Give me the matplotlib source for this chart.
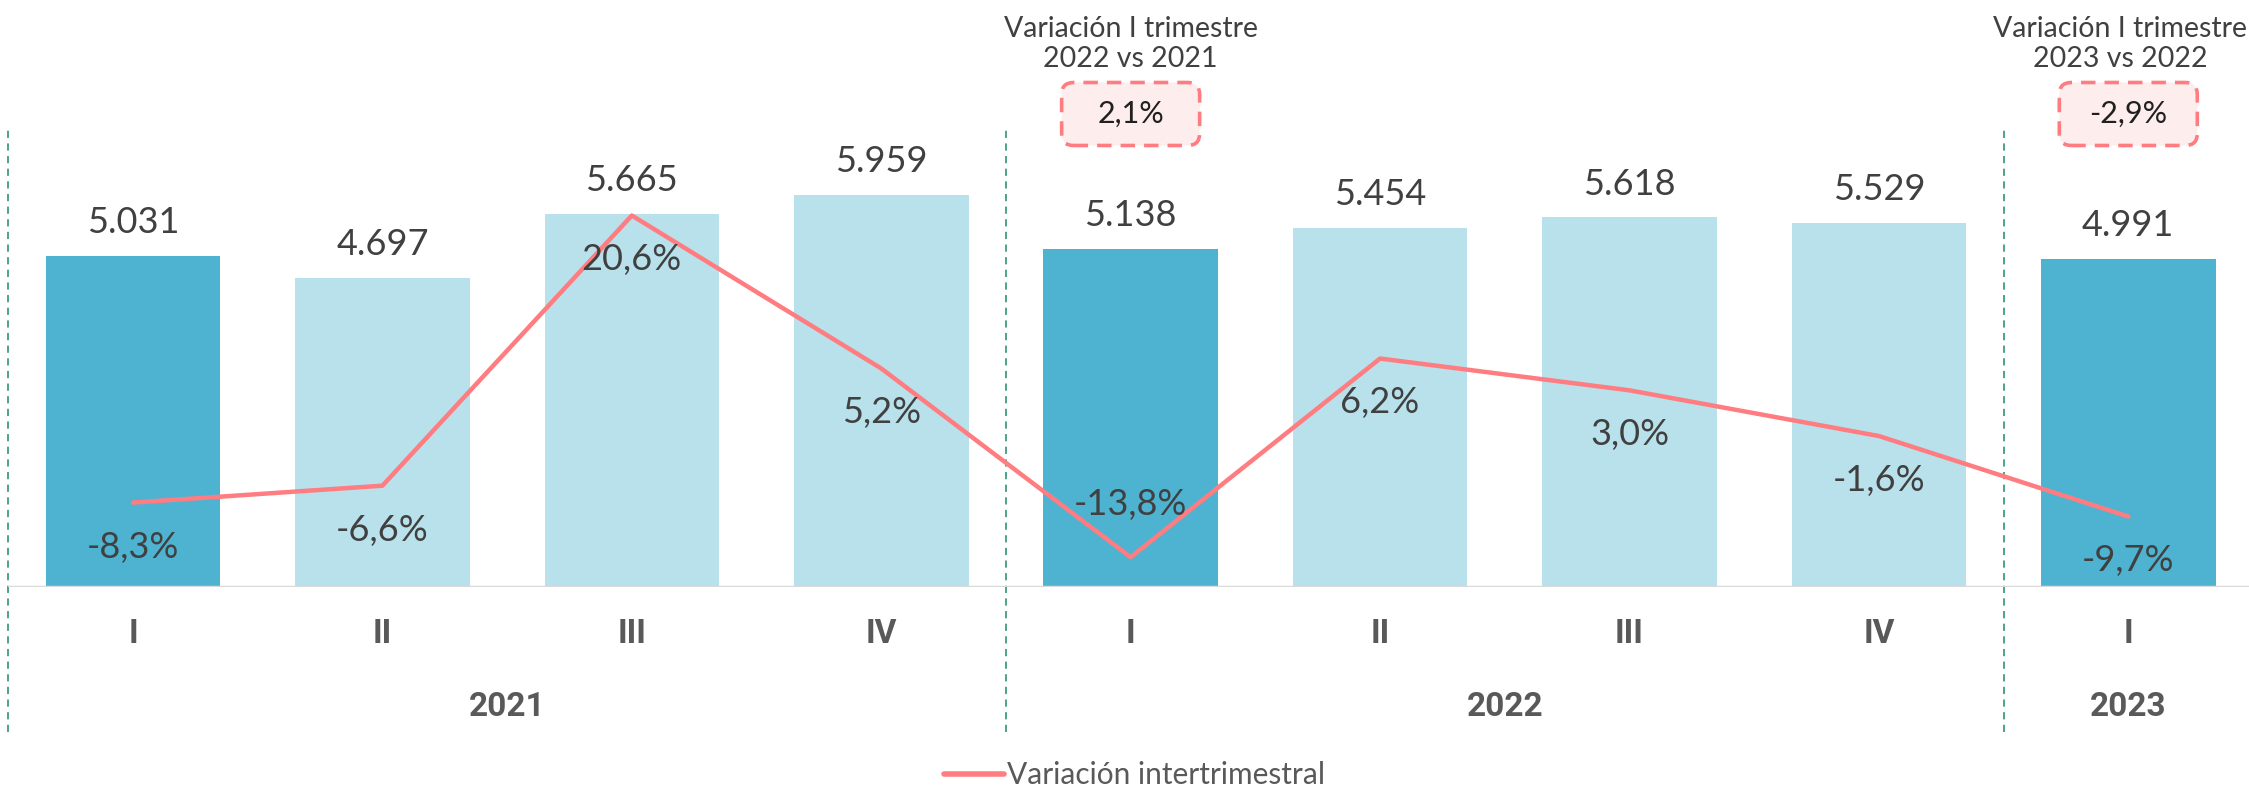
import matplotlib
matplotlib.use("Agg")
import matplotlib.pyplot as plt
from matplotlib.patches import FancyBboxPatch
from matplotlib.lines import Line2D

# ---------------- data ----------------
quarters = ["I", "II", "III", "IV", "I", "II", "III", "IV", "I"]
years = ["2021", "2022", "2023"]
year_sizes = [4, 4, 1]
values = [5031, 4697, 5665, 5959, 5138, 5454, 5618, 5529, 4991]
variation = [-8.3, -6.6, 20.6, 5.2, -13.8, 6.2, 3.0, -1.6, -9.7]
annot_titles = ["Variación I trimestre\n2022 vs 2021", "Variación I trimestre\n2023 vs 2022"]
annot_values = ["2,1%", "-2,9%"]
annot_idx = [4, 8]
legend_label = "Variación intertrimestral"

def fmt_thousands(v):
    return f"{v:,}".replace(",", ".")

def fmt_pct(v):
    return f"{v:.1f}%".replace(".", ",")

# ---------------- style ----------------
DARK = "#4EB3D1"
LIGHT = "#B8E1EB"
LINE = "#FF7C80"
TXT = "#404040"
TXT2 = "#595959"
SEP = "#3F9C80"
FONT = ["Lato", "DejaVu Sans"]
BOLDFONT = ["Liberation Sans Narrow", "Roboto", "DejaVu Sans"]
plt.rcParams["font.family"] = FONT

W, H = 2249, 788
fig = plt.figure(figsize=(W / 100, H / 100), dpi=100)

left_px, right_px = 8.3, 2253.0
bottom_px, top_px = 587.0, 126.4
ax = fig.add_axes([left_px / W, 1 - bottom_px / H,
                   (right_px - left_px) / W, (bottom_px - top_px) / H])
n = len(values)
x = list(range(n))
ax.set_xlim(-0.5, n - 0.5)
ax.set_ylim(0, 7000)
colors = [DARK if q == "I" else LIGHT for q in quarters]
bars = ax.bar(x, values, width=0.7, color=colors, zorder=2)
for xi, v in zip(x, values):
    ax.annotate(fmt_thousands(v), (xi, v), xytext=(0, 24), textcoords="offset points",
                ha="center", va="center", fontsize=26, color=TXT)

for s in ax.spines.values():
    s.set_visible(False)
ax.set_xticks([])
ax.set_yticks([])
ax.axhline(0, color="#D9D9D9", lw=2.5, zorder=3)

ax2 = ax.twinx()
ax2.set_ylim(-16.8, 29.57)
for s in ax2.spines.values():
    s.set_visible(False)
ax2.set_yticks([])
ax2.plot(x, variation, color=LINE, lw=3.2, solid_capstyle="round", zorder=4)
for xi, v in zip(x, variation):
    off = 38 if v == min(variation) else -32
    ax2.annotate(fmt_pct(v), (xi, v), xytext=(0, off), textcoords="offset points",
                 ha="center", va="center", fontsize=26, color=TXT, zorder=5)

# category labels
xt = ax.get_xaxis_transform()
for xi, q in zip(x, quarters):
    ax.text(xi, -0.102, q, transform=xt, ha="center", va="center",
            fontsize=24, fontweight="bold", color=TXT2, family=BOLDFONT)
start = -0.5
seps = [start]
for yname, sz in zip(years, year_sizes):
    mid = start + sz / 2
    ax.text(mid, -0.2605, yname, transform=xt, ha="center", va="center",
            fontsize=24, fontweight="bold", color=TXT2, family=BOLDFONT)
    start += sz
    if start < n - 0.5:
        seps.append(start)
for sx in seps:
    ax.plot([sx, sx], [-0.315, 0.9965], transform=xt, color=SEP, lw=1.3,
            ls=(0, (4, 3)), clip_on=False, zorder=1)

# annotations
fig.canvas.draw()
renderer = fig.canvas.get_renderer()
for idx, title, val in zip(annot_idx, annot_titles, annot_values):
    cx = ax.transData.transform((idx, 0))[0]
    tt = fig.text(cx / W, 1 - 44 / H, title, ha="center", va="center",
                  fontsize=20.5, color=TXT, linespacing=1.2, multialignment="center")
    bb = tt.get_window_extent(renderer)
    if bb.x1 > W - 2:
        tt.set_x((cx - (bb.x1 - (W - 2))) / W)
    bw, bh = 138, 63
    cy = H - 114
    patch = FancyBboxPatch((cx - bw / 2, cy - bh / 2), bw, bh,
                           boxstyle="round,pad=0,rounding_size=12",
                           transform=None, facecolor="#FDEDED", edgecolor=LINE,
                           lw=2.6, ls=(0, (4, 2.5)), zorder=6)
    fig.patches.append(patch)
    t = fig.text(cx / W, cy / H, val, ha="center", va="center",
                 fontsize=22, color="#202020")
    t.set_zorder(8)

handle = Line2D([], [], color=LINE, lw=4, solid_capstyle="round")
fig.legend([handle], [legend_label], loc="center", bbox_to_anchor=(0.5046, 1 - 775 / H),
           frameon=False, fontsize=21.5, labelcolor=TXT2, handlelength=2.0,
           handletextpad=0.1)

fig.savefig("out.png", dpi=100)
